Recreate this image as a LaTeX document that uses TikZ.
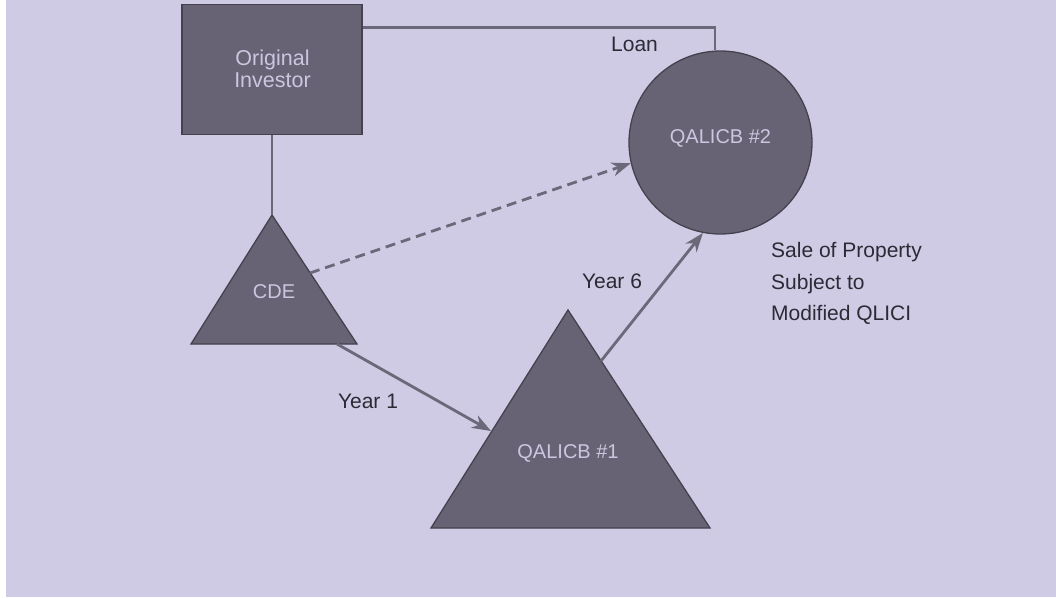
\documentclass[tikz,border=0pt]{standalone}
\usepackage{fontspec}
\setmainfont{Liberation Sans}
\usetikzlibrary{arrows.meta}
\definecolor{bg}{HTML}{CFCBE4}
\definecolor{shapefill}{HTML}{676374}
\definecolor{shapeedge}{HTML}{45414F}
\definecolor{linec}{HTML}{6B6879}
\definecolor{lighttext}{HTML}{CCC7E0}
\definecolor{darktext}{HTML}{2D2A36}
\tikzset{
  shapestyle/.style={fill=shapefill, draw=shapeedge, line width=1.3pt},
  box/.style={shapestyle, rectangle, inner sep=0pt},
  circ/.style={shapestyle, circle, inner sep=0pt},
  lt/.style={text=lighttext, font=\fontsize{20}{21.7}\selectfont, align=center, inner sep=0pt},
  dk/.style={text=darktext, font=\fontsize{21}{31.5}\selectfont, inner sep=0pt},
  conn/.style={draw=linec, line width=2.8pt},
  arr/.style={conn, -{Stealth[length=19pt, width=14pt, inset=6pt]}},
  darr/.style={arr, dash pattern=on 10pt off 6pt}
}
\begin{document}
\begin{tikzpicture}[x=1pt, y=-1pt]
\useasboundingbox (0,0) rectangle (1056,597);
\fill[white] (0,0) rectangle (1056,597);
\fill[bg] (6,0) rectangle (1056,597);

% Original Investor box
\node[box, minimum width=180pt, minimum height=130pt] (inv) at (272,69.5) {};
\node[lt, font=\fontsize{21.5}{21.7}\selectfont] (invlabel) at (272.5,68.5) {Original\\Investor};

% QALICB #2 circle
\node[circ, minimum size=183pt] (q2) at (720.5,142.5) {};
\node[lt] (q2label) at ([yshift=4.5pt]q2.center) {QALICB \#2};

% CDE triangle
\draw[shapestyle] (272,215) coordinate (cdeT) -- (357,344) coordinate (cdeR)
  -- (191,344) coordinate (cdeL) -- cycle;
\node[lt] (cdelabel) at (274,292) {CDE};

% QALICB #1 triangle
\draw[shapestyle] (568,310) coordinate (q1T) -- (710,528) coordinate (q1R)
  -- (431,528) coordinate (q1L) -- cycle;
\node[lt] (q1label) at (568,453) {QALICB \#1};

% connector points
\coordinate (cdeOut) at (337,344);
\coordinate (cdeDash) at (310,273);
\coordinate (q1In) at (491,431);
\coordinate (q1Out) at (601,361);

% connectors
\draw[conn] (inv.south) -- (cdeT);
\draw[conn] ([yshift=-24pt]inv.north east) -| ([xshift=-5.5pt]q2.north);
\draw[arr] (cdeOut) -- (q1In);
\draw[arr] (q1Out) -- (q2.259);
\draw[darr] (cdeDash) -- (q2.193);

% labels
\node[dk] (loan) at (634.5,44.5) {Loan};
\node[dk] (year1) at (368,401) {Year 1};
\node[dk] (year6) at (612,281) {Year 6};
\node[dk, align=left, anchor=north west] (sale) at (771,242.5) {Sale of Property\\Subject to\\Modified QLICI};
\end{tikzpicture}
\end{document}
